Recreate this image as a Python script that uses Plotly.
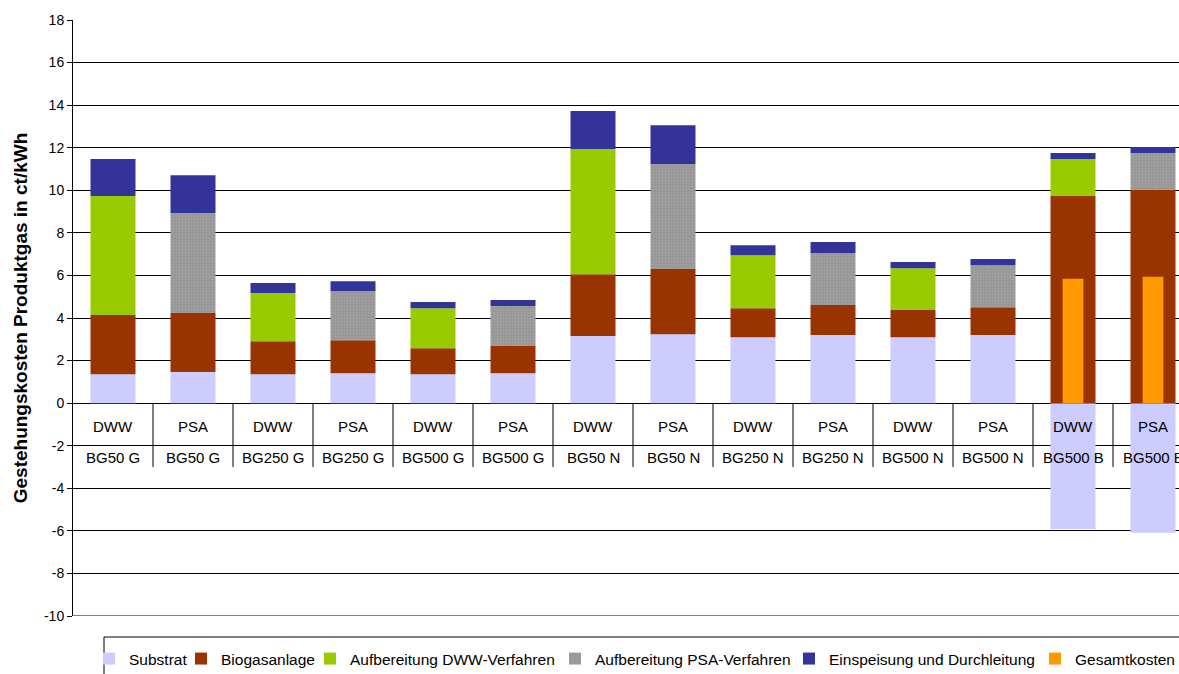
import plotly.graph_objects as go

# Process and plant for each column
verfahren = ["DWW", "PSA"] * 7
anlage = ["BG50 G", "BG50 G", "BG250 G", "BG250 G", "BG500 G", "BG500 G",
          "BG50 N", "BG50 N", "BG250 N", "BG250 N", "BG500 N", "BG500 N",
          "BG500 B", "BG500 B"]

# Cost components in ct/kWh
substrat = [1.36, 1.46, 1.36, 1.41, 1.36, 1.41, 3.15, 3.24, 3.10, 3.20, 3.10, 3.20, -5.91, -6.09]
biogasanlage = [2.78, 2.77, 1.55, 1.55, 1.22, 1.27, 2.91, 3.06, 1.36, 1.41, 1.27, 1.31, 9.73, 10.01]
aufb_dww = [5.59, None, 2.26, None, 1.88, None, 5.88, None, 2.49, None, 1.97, None, 1.74, None]
aufb_psa = [None, 4.70, None, 2.30, None, 1.88, None, 4.93, None, 2.44, None, 1.97, None, 1.74]
einspeisung = [1.74, 1.78, 0.47, 0.47, 0.29, 0.28, 1.78, 1.83, 0.47, 0.52, 0.29, 0.29, 0.28, 0.28]
gesamtkosten = [None] * 12 + [5.84, 5.94]

y_ticks = list(range(-10, 19, 2))
y_tick_labels = [str(v) for v in y_ticks]

keys = [f"{a} {v}" for a, v in zip(anlage, verfahren)]
FONT = "Liberation Sans, Arial, sans-serif"
BAR_W = 0.5625

series = [
    ("Substrat", substrat, "#CCCCFF", None),
    ("Biogasanlage", biogasanlage, "#993300", None),
    ("Aufbereitung DWW-Verfahren", aufb_dww, "#99CC00", None),
    ("Aufbereitung PSA-Verfahren", aufb_psa, "#999999",
     dict(shape=".", fgcolor="#b2b2b2", bgcolor="#969696", size=3, solidity=0.35)),
    ("Einspeisung und Durchleitung", einspeisung, "#333399", None),
]

fig = go.Figure()
legend_ids = ["legend", "legend2", "legend3", "legend4", "legend5", "legend6"]
for i, (name, vals, col, pat) in enumerate(series):
    marker = dict(color=col, line=dict(width=0))
    if pat:
        marker["pattern"] = pat
    fig.add_trace(go.Bar(name=name, x=keys, y=vals, width=BAR_W, marker=marker,
                         legend=legend_ids[i], showlegend=True))

# Total cost drawn as a narrow bar in front of the stacks
fig.add_trace(go.Bar(name="Gesamtkosten", x=keys, y=gesamtkosten, width=0.26,
                     marker=dict(color="#FF9900", line=dict(width=0)),
                     xaxis="x2", legend=legend_ids[5], showlegend=True))

# Two-row category table sitting under the zero line
annotations = []
for k, v, a in zip(keys, verfahren, anlage):
    annotations.append(dict(x=k, y=-1.08, xref="x", yref="y", text=v, showarrow=False,
                            font=dict(family=FONT, size=15, color="#000"), yanchor="middle"))
    annotations.append(dict(x=k, y=-2.54, xref="x", yref="y", text=a, showarrow=False,
                            font=dict(family=FONT, size=15, color="#000"), yanchor="middle"))

shapes = []
for i in range(len(keys) - 1):
    shapes.append(dict(type="line", xref="x", yref="y", x0=i + 0.5, x1=i + 0.5, y0=0, y1=-3,
                       line=dict(color="#000", width=1)))

# Bottom grid line of the value axis
shapes.append(dict(type="line", xref="paper", yref="y", x0=0, x1=1, y0=-10, y1=-10,
                   line=dict(color="#000", width=1), layer="below"))

# Legend frame
shapes.append(dict(type="rect", xref="paper", yref="paper",
                   x0=(104 - 73) / 1106, x1=1.05, y0=-0.2, y1=(616 - 637) / 596,
                   line=dict(color="#000", width=1), fillcolor="rgba(0,0,0,0)"))

# Legend entries placed one by one along the frame (container coordinates)
text_starts = [130, 222, 351, 596, 830, 1076]
legend_layout = {}
for lid, ts in zip(legend_ids, text_starts):
    legend_layout[lid] = dict(
        x=(ts - 41) / 1179, xref="container", xanchor="left",
        y=1 - 659 / 674, yref="container", yanchor="middle",
        orientation="h", bgcolor="rgba(0,0,0,0)", borderwidth=0,
        font=dict(family=FONT, size=15.5, color="#000"),
        itemwidth=30,
    )

fig.update_layout(
    width=1179, height=674,
    margin=dict(l=73, r=0, t=20, b=58),
    barmode="relative",
    showlegend=True,
    plot_bgcolor="white", paper_bgcolor="white",
    font=dict(family=FONT, color="#000"),
    xaxis=dict(type="category", categoryorder="array", categoryarray=keys,
               range=[-0.5, 13.325], showticklabels=False, showgrid=False,
               zeroline=False, showline=False, ticks=""),
    xaxis2=dict(overlaying="x", matches="x", type="category", categoryorder="array",
                categoryarray=keys, visible=False),
    yaxis=dict(range=[-10, 18], tickvals=y_ticks, ticktext=y_tick_labels,
               showgrid=True, gridcolor="#000",
               gridwidth=1, zeroline=True, zerolinecolor="#000", zerolinewidth=1,
               showline=True, linecolor="#000", linewidth=1, ticks="outside",
               ticklen=5, tickcolor="#000", tickfont=dict(family=FONT, size=14, color="#000"),
               title=dict(text="<b>Gestehungskosten Produktgas in ct/kWh</b>",
                          font=dict(family=FONT, size=19, color="#000"), standoff=11)),
    annotations=annotations,
    shapes=shapes,
    **legend_layout,
)

fig.write_html("out.html")
